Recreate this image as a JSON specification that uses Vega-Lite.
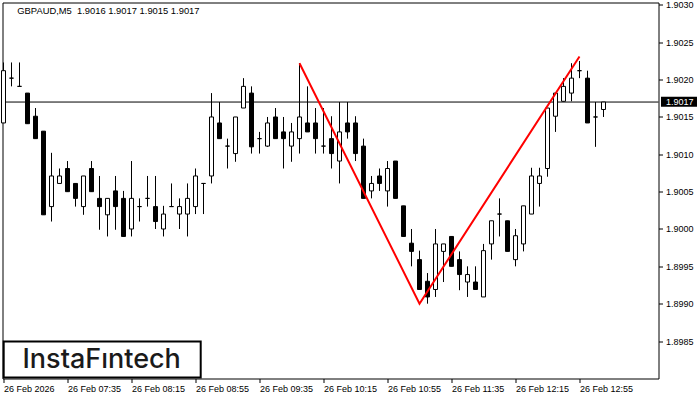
{
"$schema": "https://vega.github.io/schema/vega-lite/v6.json",
"width": 656, "height": 376,
"autosize": {"type": "none"},
"padding": {"left": 2.5, "top": 2.5, "right": 41.5, "bottom": 21.5},
"background": "white",
"config": {"view": {"stroke": "black", "strokeWidth": 1}, "font": "Liberation Sans", "scale": {"continuousPadding": 0}},
"datasets": {
"candles": [
{"t":"2026-02-26T06:55:00","o":1.90142,"h":1.90223,"l":1.90142,"c":1.90212},
{"t":"2026-02-26T07:00:00","o":1.90202,"h":1.90223,"l":1.90191,"c":1.90202},
{"t":"2026-02-26T07:05:00","o":1.90191,"h":1.90223,"l":1.90191,"c":1.90191},
{"t":"2026-02-26T07:10:00","o":1.90182,"h":1.90182,"l":1.90141,"c":1.90141},
{"t":"2026-02-26T07:15:00","o":1.90151,"h":1.90162,"l":1.90121,"c":1.90121},
{"t":"2026-02-26T07:20:00","o":1.90131,"h":1.90131,"l":1.90019,"c":1.90019},
{"t":"2026-02-26T07:25:00","o":1.90030,"h":1.90102,"l":1.90010,"c":1.90071},
{"t":"2026-02-26T07:30:00","o":1.90061,"h":1.90081,"l":1.90061,"c":1.90071},
{"t":"2026-02-26T07:35:00","o":1.90081,"h":1.90091,"l":1.90050,"c":1.90050},
{"t":"2026-02-26T07:40:00","o":1.90061,"h":1.90061,"l":1.90030,"c":1.90041},
{"t":"2026-02-26T07:45:00","o":1.90030,"h":1.90071,"l":1.90019,"c":1.90071},
{"t":"2026-02-26T07:50:00","o":1.90081,"h":1.90091,"l":1.90050,"c":1.90050},
{"t":"2026-02-26T07:55:00","o":1.90041,"h":1.90071,"l":1.89999,"c":1.90030},
{"t":"2026-02-26T08:00:00","o":1.90019,"h":1.90041,"l":1.89990,"c":1.90041},
{"t":"2026-02-26T08:05:00","o":1.90051,"h":1.90071,"l":1.89999,"c":1.90030},
{"t":"2026-02-26T08:10:00","o":1.90041,"h":1.90051,"l":1.89990,"c":1.89990},
{"t":"2026-02-26T08:15:00","o":1.90000,"h":1.90091,"l":1.89990,"c":1.90041},
{"t":"2026-02-26T08:20:00","o":1.90030,"h":1.90041,"l":1.90010,"c":1.90030},
{"t":"2026-02-26T08:25:00","o":1.90041,"h":1.90071,"l":1.90030,"c":1.90041},
{"t":"2026-02-26T08:30:00","o":1.90030,"h":1.90071,"l":1.90000,"c":1.90010},
{"t":"2026-02-26T08:35:00","o":1.90000,"h":1.90031,"l":1.89990,"c":1.90020},
{"t":"2026-02-26T08:40:00","o":1.90030,"h":1.90061,"l":1.90030,"c":1.90030},
{"t":"2026-02-26T08:45:00","o":1.90020,"h":1.90041,"l":1.90000,"c":1.90030},
{"t":"2026-02-26T08:50:00","o":1.90020,"h":1.90061,"l":1.89990,"c":1.90041},
{"t":"2026-02-26T08:55:00","o":1.90030,"h":1.90081,"l":1.90020,"c":1.90071},
{"t":"2026-02-26T09:00:00","o":1.90061,"h":1.90061,"l":1.90020,"c":1.90061},
{"t":"2026-02-26T09:05:00","o":1.90071,"h":1.90182,"l":1.90061,"c":1.90150},
{"t":"2026-02-26T09:10:00","o":1.90142,"h":1.90170,"l":1.90121,"c":1.90121},
{"t":"2026-02-26T09:15:00","o":1.90111,"h":1.90121,"l":1.90081,"c":1.90111},
{"t":"2026-02-26T09:20:00","o":1.90101,"h":1.90150,"l":1.90090,"c":1.90150},
{"t":"2026-02-26T09:25:00","o":1.90162,"h":1.90202,"l":1.90162,"c":1.90191},
{"t":"2026-02-26T09:30:00","o":1.90182,"h":1.90191,"l":1.90101,"c":1.90110},
{"t":"2026-02-26T09:35:00","o":1.90121,"h":1.90130,"l":1.90101,"c":1.90121},
{"t":"2026-02-26T09:40:00","o":1.90111,"h":1.90150,"l":1.90110,"c":1.90142},
{"t":"2026-02-26T09:45:00","o":1.90150,"h":1.90162,"l":1.90121,"c":1.90121},
{"t":"2026-02-26T09:50:00","o":1.90130,"h":1.90150,"l":1.90081,"c":1.90121},
{"t":"2026-02-26T09:55:00","o":1.90111,"h":1.90142,"l":1.90090,"c":1.90130},
{"t":"2026-02-26T10:00:00","o":1.90121,"h":1.90222,"l":1.90101,"c":1.90150},
{"t":"2026-02-26T10:05:00","o":1.90142,"h":1.90191,"l":1.90130,"c":1.90130},
{"t":"2026-02-26T10:10:00","o":1.90142,"h":1.90162,"l":1.90101,"c":1.90121},
{"t":"2026-02-26T10:15:00","o":1.90111,"h":1.90162,"l":1.90101,"c":1.90111},
{"t":"2026-02-26T10:20:00","o":1.90121,"h":1.90151,"l":1.90081,"c":1.90101},
{"t":"2026-02-26T10:25:00","o":1.90091,"h":1.90170,"l":1.90061,"c":1.90130},
{"t":"2026-02-26T10:30:00","o":1.90142,"h":1.90170,"l":1.90121,"c":1.90130},
{"t":"2026-02-26T10:35:00","o":1.90142,"h":1.90151,"l":1.90091,"c":1.90101},
{"t":"2026-02-26T10:40:00","o":1.90111,"h":1.90121,"l":1.90041,"c":1.90041},
{"t":"2026-02-26T10:45:00","o":1.90051,"h":1.90071,"l":1.90041,"c":1.90061},
{"t":"2026-02-26T10:50:00","o":1.90071,"h":1.90081,"l":1.90051,"c":1.90061},
{"t":"2026-02-26T10:55:00","o":1.90051,"h":1.90091,"l":1.90030,"c":1.90081},
{"t":"2026-02-26T11:00:00","o":1.90091,"h":1.90091,"l":1.90041,"c":1.90041},
{"t":"2026-02-26T11:05:00","o":1.90031,"h":1.90031,"l":1.89990,"c":1.89990},
{"t":"2026-02-26T11:10:00","o":1.89981,"h":1.90000,"l":1.89950,"c":1.89970},
{"t":"2026-02-26T11:15:00","o":1.89959,"h":1.89971,"l":1.89919,"c":1.89919},
{"t":"2026-02-26T11:20:00","o":1.89930,"h":1.89941,"l":1.89900,"c":1.89909},
{"t":"2026-02-26T11:25:00","o":1.89919,"h":1.90000,"l":1.89909,"c":1.89980},
{"t":"2026-02-26T11:30:00","o":1.89970,"h":1.89980,"l":1.89929,"c":1.89980},
{"t":"2026-02-26T11:35:00","o":1.89990,"h":1.89990,"l":1.89950,"c":1.89950},
{"t":"2026-02-26T11:40:00","o":1.89959,"h":1.89970,"l":1.89918,"c":1.89939},
{"t":"2026-02-26T11:45:00","o":1.89929,"h":1.89950,"l":1.89909,"c":1.89939},
{"t":"2026-02-26T11:50:00","o":1.89929,"h":1.89950,"l":1.89919,"c":1.89919},
{"t":"2026-02-26T11:55:00","o":1.89909,"h":1.89980,"l":1.89909,"c":1.89971},
{"t":"2026-02-26T12:00:00","o":1.89980,"h":1.90011,"l":1.89959,"c":1.90011},
{"t":"2026-02-26T12:05:00","o":1.90020,"h":1.90041,"l":1.89990,"c":1.90020},
{"t":"2026-02-26T12:10:00","o":1.90011,"h":1.90011,"l":1.89970,"c":1.89970},
{"t":"2026-02-26T12:15:00","o":1.89959,"h":1.90000,"l":1.89950,"c":1.89991},
{"t":"2026-02-26T12:20:00","o":1.89980,"h":1.90031,"l":1.89970,"c":1.90031},
{"t":"2026-02-26T12:25:00","o":1.90020,"h":1.90082,"l":1.90020,"c":1.90071},
{"t":"2026-02-26T12:30:00","o":1.90061,"h":1.90082,"l":1.90030,"c":1.90071},
{"t":"2026-02-26T12:35:00","o":1.90081,"h":1.90162,"l":1.90070,"c":1.90162},
{"t":"2026-02-26T12:40:00","o":1.90151,"h":1.90182,"l":1.90130,"c":1.90182},
{"t":"2026-02-26T12:45:00","o":1.90171,"h":1.90202,"l":1.90171,"c":1.90191},
{"t":"2026-02-26T12:50:00","o":1.90182,"h":1.90222,"l":1.90171,"c":1.90202},
{"t":"2026-02-26T12:55:00","o":1.90212,"h":1.90225,"l":1.90202,"c":1.90212},
{"t":"2026-02-26T13:00:00","o":1.90202,"h":1.90212,"l":1.90142,"c":1.90142},
{"t":"2026-02-26T13:05:00","o":1.90150,"h":1.90170,"l":1.90110,"c":1.90150},
{"t":"2026-02-26T13:10:00","o":1.90160,"h":1.90170,"l":1.90150,"c":1.90170}
],
"pattern": [
{"t":"2026-02-26T10:00:00","p":1.90222},
{"t":"2026-02-26T11:15:00","p":1.89900},
{"t":"2026-02-26T12:55:00","p":1.90231}
]
},
"layer": [
{
"data": {"values": [{}]},
"mark": {"type": "rule", "color": "black", "strokeWidth": 1},
"encoding": {"y": {"datum": 1.9017, "type": "quantitative"}}
},
{
"data": {"name": "candles"},
"mark": {"type": "rule", "color": "black", "strokeWidth": 1},
"encoding": {
"x": {"field": "t", "type": "temporal",
"scale": {"domain": [{"year":2026,"month":2,"date":26,"hours":6,"minutes":54,"seconds":22,"milliseconds":500},{"year":2026,"month":2,"date":26,"hours":13,"minutes":44,"seconds":22,"milliseconds":500}], "nice": false, "padding": 0},
"axis": {"orient": "bottom", "title": null, "grid": false, "domain": false, "tickSize": 4, "tickColor": "black",
"values": [
{"year":2026,"month":2,"date":26,"hours":6,"minutes":55},
{"year":2026,"month":2,"date":26,"hours":7,"minutes":35},
{"year":2026,"month":2,"date":26,"hours":8,"minutes":15},
{"year":2026,"month":2,"date":26,"hours":8,"minutes":55},
{"year":2026,"month":2,"date":26,"hours":9,"minutes":35},
{"year":2026,"month":2,"date":26,"hours":10,"minutes":15},
{"year":2026,"month":2,"date":26,"hours":10,"minutes":55},
{"year":2026,"month":2,"date":26,"hours":11,"minutes":35},
{"year":2026,"month":2,"date":26,"hours":12,"minutes":15},
{"year":2026,"month":2,"date":26,"hours":12,"minutes":55}],
"labelExpr": "timeFormat(datum.value, '%H:%M') == '06:55' ? '26 Feb 2026' : timeFormat(datum.value, '%d %b %H:%M')",
"labelAlign": "left", "labelBaseline": "top", "labelPadding": 2, "labelFontSize": 9, "labelColor": "black",
"labelFlush": false, "labelOverlap": false, "labelBound": false}},
"y": {"field": "l", "type": "quantitative",
"scale": {"domain": [1.897998, 1.903033], "nice": false, "zero": false},
"axis": {"orient": "right", "title": null, "grid": false, "domain": false, "tickSize": 4, "tickColor": "black",
"values": [1.8985, 1.899, 1.8995, 1.9, 1.9005, 1.901, 1.9015, 1.902, 1.9025, 1.903],
"format": ".4f", "labelPadding": 3, "labelFontSize": 9, "labelColor": "black", "labelFlush": false, "labelOverlap": false}},
"y2": {"field": "h"}
}
},
{
"data": {"name": "candles"},
"mark": {"type": "bar", "width": 4, "stroke": "black", "strokeWidth": 1},
"encoding": {
"x": {"field": "t", "type": "temporal"},
"y": {"field": "o", "type": "quantitative", "scale": {"domain": [1.897998, 1.903033], "nice": false, "zero": false}},
"y2": {"field": "c"},
"fill": {"condition": {"test": "datum.c >= datum.o", "value": "white"}, "value": "black"}
}
},
{
"data": {"name": "pattern"},
"mark": {"type": "line", "color": "#ff0000", "strokeWidth": 2},
"encoding": {
"x": {"field": "t", "type": "temporal"},
"y": {"field": "p", "type": "quantitative", "scale": {"domain": [1.897998, 1.903033], "nice": false, "zero": false}}
}
},
{
"data": {"values": [{}]},
"mark": {"type": "text", "text": "GBPAUD,M5\u00a0 1.9016 1.9017 1.9015 1.9017", "align": "left", "baseline": "middle", "fontSize": 9.4, "color": "black", "font": "Liberation Sans"},
"encoding": {
"x": {"datum": {"year":2026,"month":2,"date":26,"hours":7,"minutes":3,"seconds":37}, "type": "temporal"},
"y": {"datum": 1.90292, "type": "quantitative"}
}
},
{
"data": {"values": [{}]},
"mark": {"type": "rect", "fill": "white", "stroke": "black", "strokeWidth": 2},
"encoding": {
"x": {"datum": {"year":2026,"month":2,"date":26,"hours":6,"minutes":55,"seconds":7}, "type": "temporal"},
"x2": {"datum": {"year":2026,"month":2,"date":26,"hours":8,"minutes":58,"seconds":15}},
"y": {"datum": 1.898493, "type": "quantitative"},
"y2": {"datum": 1.898011}
}
},
{
"data": {"values": [{}]},
"mark": {"type": "text", "text": "InstaFıntech", "align": "center", "baseline": "alphabetic", "fontSize": 27, "fontWeight": 500, "font": "Inter", "color": "#1a1a1a"},
"encoding": {
"x": {"datum": {"year":2026,"month":2,"date":26,"hours":7,"minutes":56,"seconds":22}, "type": "temporal"},
"y": {"datum": 1.898134, "type": "quantitative"}
}
},
{
"data": {"values": [{}]},
"mark": {"type": "rect", "fill": "black"},
"encoding": {
"x": {"datum": {"year":2026,"month":2,"date":26,"hours":13,"minutes":45,"seconds":56}, "type": "temporal"},
"x2": {"datum": {"year":2026,"month":2,"date":26,"hours":14,"minutes":8,"seconds":26}},
"y": {"datum": 1.901772, "type": "quantitative"},
"y2": {"datum": 1.901638}
}
},
{
"data": {"values": [{}]},
"mark": {"type": "text", "text": "1.9017", "align": "left", "baseline": "middle", "fontSize": 9, "color": "white", "font": "Liberation Sans"},
"encoding": {
"x": {"datum": {"year":2026,"month":2,"date":26,"hours":13,"minutes":49,"seconds":0}, "type": "temporal"},
"y": {"datum": 1.901705, "type": "quantitative"}
}
}
]
}
